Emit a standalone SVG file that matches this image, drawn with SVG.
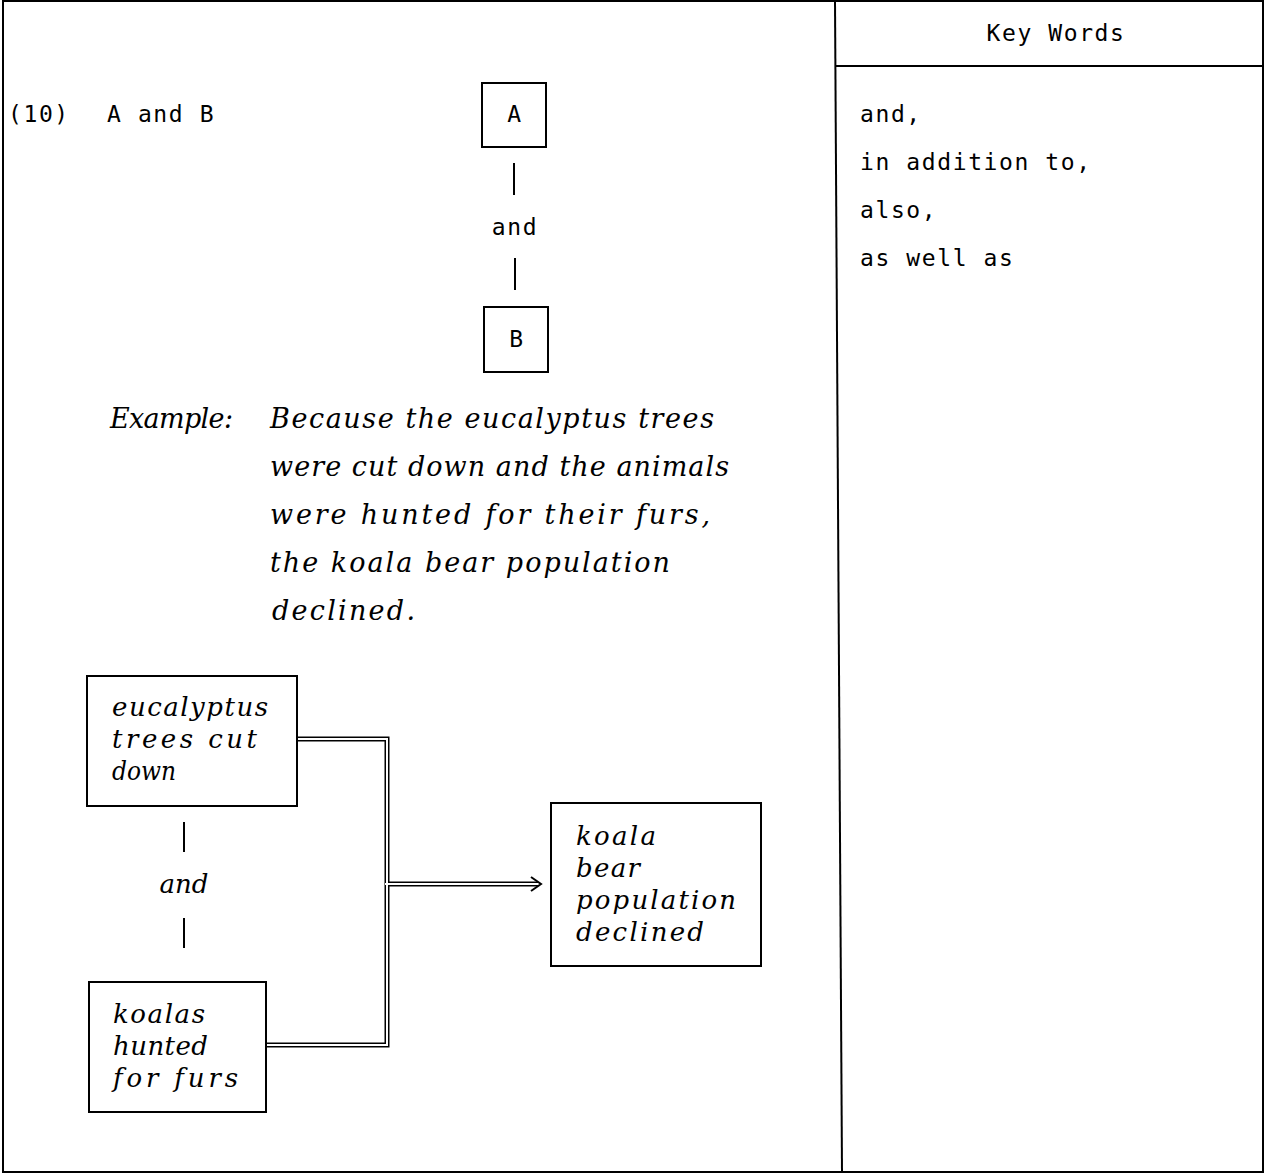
<svg xmlns="http://www.w3.org/2000/svg" width="1265" height="1174" viewBox="0 0 1265 1174">
<style>
.mono{font-family:"DejaVu Sans Mono","Liberation Mono",monospace;font-size:23px;letter-spacing:1.6px;fill:#000}
.hand{font-family:"DejaVu Serif","Liberation Serif",serif;font-style:italic;font-size:27px;fill:#000}
.hb{font-family:"DejaVu Serif","Liberation Serif",serif;font-style:italic;font-size:26px;fill:#000}
.box{fill:none;stroke:#000;stroke-width:2}
.ln{stroke:#000;stroke-width:2;fill:none}
.dblo{fill:none;stroke:#000;stroke-width:5}
.dbli{fill:none;stroke:#fff;stroke-width:2}
</style>
<rect width="1265" height="1174" fill="#fff"/>
<g id="frame">
<rect x="3" y="1" width="1260" height="1171" class="box"/>
<line x1="835" y1="1" x2="842" y2="1172" class="ln"/>
<line x1="835" y1="66" x2="1264" y2="66" class="ln"/>
</g>
<g id="keywords">
<text class="mono" x="1056" y="41" text-anchor="middle">Key Words</text>
<text class="mono" x="860" y="122">and,</text>
<text class="mono" x="860" y="170">in addition to,</text>
<text class="mono" x="860" y="218">also,</text>
<text class="mono" x="860" y="266">as well as</text>
</g>
<g id="title">
<text class="mono" x="8" y="122">(10)</text>
<text class="mono" x="107" y="122">A and B</text>
</g>
<g id="nodeA">
<rect x="482" y="83" width="64" height="64" class="box"/>
<text class="mono" x="515" y="122" text-anchor="middle">A</text>
</g>
<g id="andAB">
<line x1="514" y1="163" x2="514" y2="195" class="ln"/>
<text class="mono" x="515" y="235" text-anchor="middle">and</text>
<line x1="515" y1="258" x2="515" y2="290" class="ln"/>
</g>
<g id="nodeB">
<rect x="484" y="307" width="64" height="65" class="box"/>
<text class="mono" x="517" y="347" text-anchor="middle">B</text>
</g>
<g id="example">
<text class="hand" x="110" y="428" textLength="123" lengthAdjust="spacing">Example:</text>
<text class="hand" x="270" y="428" textLength="444" lengthAdjust="spacing">Because the eucalyptus trees</text>
<text class="hand" x="270" y="476" textLength="459" lengthAdjust="spacing">were cut down and the animals</text>
<text class="hand" x="270" y="524" textLength="440" lengthAdjust="spacing">were hunted for their furs,</text>
<text class="hand" x="270" y="572" textLength="400" lengthAdjust="spacing">the koala bear population</text>
<text class="hand" x="272" y="620" textLength="143" lengthAdjust="spacing">declined.</text>
</g>
<g id="connectors">
<path d="M297,739 H387 V1045 H266" class="dblo"/>
<path d="M387,884 H538" class="dblo"/>
<path d="M297,739 H387 V1045 H266" class="dbli"/>
<path d="M385,884 H538" class="dbli"/>
<path d="M531,877 L541,884 L531,891" class="ln"/>
</g>
<g id="nodeTrees">
<rect x="87" y="676" width="210" height="130" class="box"/>
<text class="hb" x="112" y="716" textLength="156" lengthAdjust="spacing">eucalyptus</text>
<text class="hb" x="112" y="748" textLength="145" lengthAdjust="spacing">trees cut</text>
<text class="hb" x="112" y="780" textLength="64" lengthAdjust="spacingAndGlyphs">down</text>
</g>
<g id="andBottom">
<line x1="184" y1="822" x2="184" y2="852" class="ln"/>
<text class="hb" x="184" y="893" text-anchor="middle">and</text>
<line x1="184" y1="918" x2="184" y2="948" class="ln"/>
</g>
<g id="nodeKoalas">
<rect x="89" y="982" width="177" height="130" class="box"/>
<text class="hb" x="113" y="1023" textLength="92" lengthAdjust="spacing">koalas</text>
<text class="hb" x="113" y="1055" textLength="95" lengthAdjust="spacing">hunted</text>
<text class="hb" x="113" y="1087" textLength="125" lengthAdjust="spacing">for furs</text>
</g>
<g id="nodeDeclined">
<rect x="551" y="803" width="210" height="163" class="box"/>
<text class="hb" x="576" y="845" textLength="80" lengthAdjust="spacing">koala</text>
<text class="hb" x="576" y="877" textLength="64" lengthAdjust="spacing">bear</text>
<text class="hb" x="576" y="909" textLength="160" lengthAdjust="spacing">population</text>
<text class="hb" x="576" y="941" textLength="128" lengthAdjust="spacing">declined</text>
</g>
</svg>
